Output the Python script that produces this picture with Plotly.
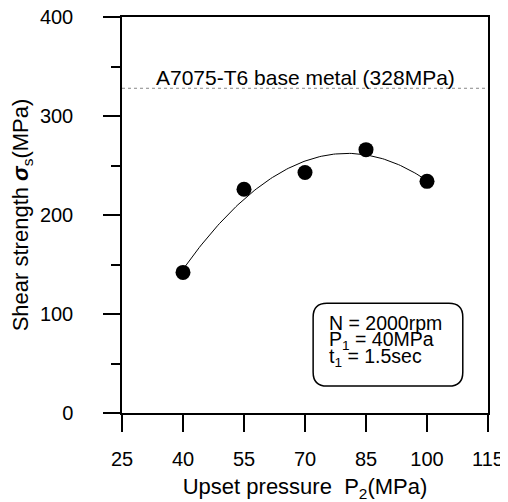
import numpy as np
import plotly.graph_objects as go

# Data
upset_pressure = [40, 55, 70, 85, 100]          # P2 (MPa)
shear_strength = [142, 226, 243, 266, 234]      # sigma_s (MPa)
base_metal_strength = 328                       # A7075-T6 base metal
x_ticks = [25, 40, 55, 70, 85, 100, 115]
y_ticks = [0, 100, 200, 300, 400]
cond_lines = ["N = 2000rpm", "P<sub>1</sub> = 40MPa", "t<sub>1</sub> = 1.5sec"]

# quadratic trend line derived from the data
coef = np.polyfit(upset_pressure, shear_strength, 2)
xf = np.linspace(min(upset_pressure), max(upset_pressure), 121)
yf = np.polyval(coef, xf)

FONT = "Liberation Sans, Arial, sans-serif"
fig = go.Figure()
fig.add_trace(go.Scatter(x=xf, y=yf, mode="lines",
                         line=dict(color="black", width=1), hoverinfo="skip",
                         showlegend=False))
fig.add_trace(go.Scatter(x=upset_pressure, y=shear_strength, mode="markers",
                         marker=dict(color="black", size=15), showlegend=False))

# base metal reference line
fig.add_shape(type="line", x0=25, x1=115, y0=base_metal_strength, y1=base_metal_strength,
              xref="x", yref="y", line=dict(color="#888888", width=1, dash="dot"))
fig.add_annotation(x=70, y=base_metal_strength + 11,
                   text="A7075-T6 base metal (328MPa)", showarrow=False,
                   xanchor="center", yanchor="middle",
                   font=dict(family=FONT, size=21, color="black"))

# rounded box for conditions
x0, x1, y0, y1 = 72, 108.8, 27.2, 110.8
rx, ry = 3.4, 14
path = (f"M {x0+rx},{y0} L {x1-rx},{y0} Q {x1},{y0} {x1},{y0+ry} "
        f"L {x1},{y1-ry} Q {x1},{y1} {x1-rx},{y1} L {x0+rx},{y1} "
        f"Q {x0},{y1} {x0},{y1-ry} L {x0},{y0+ry} Q {x0},{y0} {x0+rx},{y0} Z")
fig.add_shape(type="path", path=path, xref="x", yref="y",
              line=dict(color="black", width=1.5), fillcolor="white")
for txt, yy in zip(cond_lines, [90.7, 73.5, 56.0]):
    fig.add_annotation(x=75.4, y=yy, text=txt, showarrow=False,
                       xanchor="left", yanchor="middle",
                       font=dict(family=FONT, size=19.5, color="black"))

fig.update_xaxes(range=[25, 115], tickvals=x_ticks, ticks="outside", ticklen=17,
                 tickwidth=1.5, tickcolor="black", showline=True, linecolor="black",
                 linewidth=1.5, mirror=True, showgrid=False, zeroline=False,
                 automargin=False, ticklabelstandoff=10, ticklabeloverflow="allow",
                 tickfont=dict(family=FONT, size=20, color="black"),
                 title=dict(text="Upset pressure&nbsp;&nbsp;P<sub>2</sub>(MPa)", standoff=16,
                            font=dict(family=FONT, size=22, color="black")))
fig.update_yaxes(range=[0, 400], tickvals=y_ticks, ticks="outside", ticklen=17,
                 tickwidth=1.5, tickcolor="black", showline=True, linecolor="black",
                 linewidth=1.5, mirror=True, showgrid=False, zeroline=False,
                 automargin=False, ticklabelstandoff=26, ticklabeloverflow="allow",
                 minor=dict(ticks="outside", ticklen=9, tickwidth=1.5,
                            tickcolor="black", dtick=50, showgrid=False),
                 tickfont=dict(family=FONT, size=20, color="black"),
                 title=dict(text="Shear strength <b><i>σ</i></b><sub>s</sub>(MPa)",
                            standoff=6,
                            font=dict(family=FONT, size=22, color="black")))
# page body adds an 8px offset; size/margins compensate so the plot area
# lands at about x 122-488, y 17-413 of the 508x502 window
fig.update_layout(width=500, height=494, margin=dict(l=114, r=20, t=9, b=89),
                  plot_bgcolor="white", paper_bgcolor="white",
                  font=dict(family=FONT, color="black"))
fig.write_html("out.html")
